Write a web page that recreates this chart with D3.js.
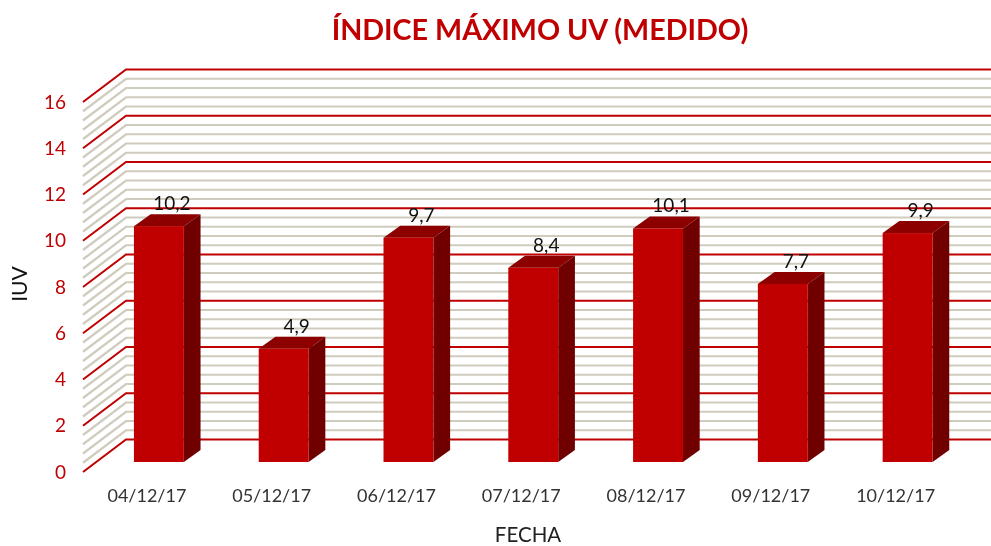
<!DOCTYPE html>
<html>
<head>
<meta charset="utf-8">
<script src="https://cdnjs.cloudflare.com/ajax/libs/d3/7.8.5/d3.min.js"></script>
<style>
    html, body { margin: 0; padding: 0; background: #fff; overflow: hidden; }
    svg { display: block; font-family: Lato, "Open Sans", sans-serif; filter: blur(0.4px); }
</style>
</head>
<body>
<script>
const fechas = ["04/12/17", "05/12/17", "06/12/17", "07/12/17", "08/12/17", "09/12/17", "10/12/17"];
const iuv = [10.2, 4.9, 9.7, 8.4, 10.1, 7.7, 9.9];
const yTicks = [0, 2, 4, 6, 8, 10, 12, 14, 16];
const minorTicks = d3.range(0, 41).map((i) => {return i * 0.4}).filter((d, i) => {return i % 5 !== 0});

const width = 991;
const height = 546;

// front plane of the 3D box, the back wall is shifted by depth
const front = {left: 83, bottom: 472, top: 102};
const depth = {x: 43, y: 32.5};
const barDepth = {x: 16.7, y: 12};
const barShift = {x: 12, y: -10};

const RED = "#c00000";

// Scales
const y = d3.scaleLinear()
            .domain([0, 16])
            .range([front.bottom, front.top]);

const x = d3.scaleBand()
            .domain(fechas)
            .range([84.5, 958])
            .paddingInner(0.6)
            .paddingOuter(0.3);

const xLabel = d3.scaleBand()
            .domain(fechas)
            .range([84.5, 958]);

var svg = d3.select("body").append("svg")
            .attr('width', width)
            .attr('height', height);

// Grid: side wall + back wall
function drawGrid(values, color, w, cls) {
    var g = svg.append("g").attr('class', cls).attr('fill', 'none')
                .attr('stroke', color).attr('stroke-width', w);
    g.selectAll("path").data(values).enter().append("path")
        .attr('d', (d) => {
            return d3.line()([
                [front.left, y(d)],
                [front.left + depth.x, y(d) - depth.y],
                [width, y(d) - depth.y]
            ]);
        });
}
drawGrid(minorTicks, "#cfcbbd", 2.2, "minor");
drawGrid(yTicks, RED, 2, "major");

// Bars
const bars = svg.selectAll("g.bar").data(fechas).enter().append("g").attr('class', 'bar');

function barBox(d, i) {
    const x0 = x(d) + barShift.x;
    const x1 = x0 + x.bandwidth();
    const y0 = y(iuv[i]) + barShift.y;
    const y1 = y(0) + barShift.y;
    return {x0, x1, y0, y1};
}

bars.append("polygon")
    .attr('fill', '#8c0000')
    .attr('points', (d, i) => {
        const b = barBox(d, i);
        return [[b.x0, b.y0], [b.x0 + barDepth.x, b.y0 - barDepth.y], [b.x1 + barDepth.x, b.y0 - barDepth.y], [b.x1, b.y0]].join(" ");
    });
bars.append("polygon")
    .attr('fill', '#700000')
    .attr('points', (d, i) => {
        const b = barBox(d, i);
        return [[b.x1, b.y0], [b.x1 + barDepth.x, b.y0 - barDepth.y], [b.x1 + barDepth.x, b.y1 - barDepth.y], [b.x1, b.y1]].join(" ");
    });
bars.append("rect")
    .attr('fill', RED)
    .attr('x', (d, i) => {return barBox(d, i).x0})
    .attr('y', (d, i) => {return barBox(d, i).y0})
    .attr('width', x.bandwidth())
    .attr('height', (d, i) => {const b = barBox(d, i); return b.y1 - b.y0});

// Data labels
svg.append("g").attr('class', 'labels')
    .selectAll("text").data(fechas).enter().append("text")
    .attr('x', (d, i) => {const b = barBox(d, i); return (b.x0 + b.x1) / 2 + 13})
    .attr('y', (d, i) => {return barBox(d, i).y0 - 16})
    .attr('text-anchor', 'middle')
    .attr('font-size', '19px')
    .attr('fill', '#111')
    .text((d, i) => {return String(iuv[i]).replace(".", ",")});

// Axes
var yAxis = svg.append("g")
    .attr('class', 'left axis')
    .attr('transform', `translate(${front.left}, 0)`)
    .call(d3.axisLeft(y).tickValues(yTicks).tickSize(0).tickPadding(17));
yAxis.select(".domain").remove();
yAxis.selectAll("text")
    .attr('font-family', 'Lato')
    .attr('font-size', '19px')
    .style('fill', RED);

var xAxis = svg.append("g")
    .attr('class', 'bottom axis')
    .attr('transform', `translate(0, 489)`)
    .call(d3.axisBottom(xLabel).tickSize(0).tickPadding(0));
xAxis.select(".domain").remove();
xAxis.selectAll("text")
    .attr('font-family', 'Lato')
    .attr('font-size', '18px')
    .style('fill', '#333');

// Titles
svg.append("text")
    .attr('x', 540)
    .attr('y', 40)
    .attr('text-anchor', 'middle')
    .attr('font-size', '28.7px')
    .attr('font-weight', 'bold')
    .attr('fill', RED)
    .text("ÍNDICE MÁXIMO UV (MEDIDO)");

svg.append("text")
    .attr('x', -284)
    .attr('y', 27)
    .attr('text-anchor', 'middle')
    .attr('transform', 'rotate(-90)')
    .attr('font-size', '21px')
    .attr('fill', '#111')
    .text("IUV");

svg.append("text")
    .attr('x', 528)
    .attr('y', 541.5)
    .attr('text-anchor', 'middle')
    .attr('font-size', '20.5px')
    .attr('fill', '#222')
    .text("FECHA");
</script>
</body>
</html>
